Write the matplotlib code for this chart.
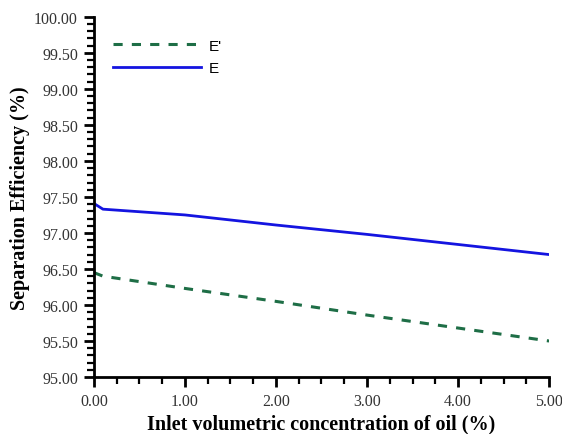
import matplotlib
matplotlib.use("Agg")
import matplotlib.pyplot as plt
from matplotlib.ticker import MultipleLocator, FormatStrFormatter

x = [0.0, 0.1, 1.0, 2.0, 3.0, 4.0, 5.0]
E = [97.41, 97.33, 97.25, 97.11, 96.98, 96.84, 96.70]
E_prime = [96.45, 96.40, 96.23, 96.05, 95.86, 95.68, 95.50]

fig = plt.figure(figsize=(5.62, 4.35), dpi=100)
ax = fig.add_axes([0.167, 0.131, 0.81, 0.828])

ax.plot(x, E_prime, color="#1e6e46", lw=2.2, linestyle=(0, (3, 3)), label="E'")
ax.plot(x, E, color="#1414e0", lw=2.0, label="E")

ax.set_xlim(0, 5)
ax.set_ylim(95, 100)
ax.xaxis.set_major_locator(MultipleLocator(1))
ax.xaxis.set_minor_locator(MultipleLocator(0.25))
ax.yaxis.set_major_locator(MultipleLocator(0.5))
ax.yaxis.set_minor_locator(MultipleLocator(0.1))
ax.xaxis.set_major_formatter(FormatStrFormatter("%.2f"))
ax.yaxis.set_major_formatter(FormatStrFormatter("%.2f"))

for s in ["top", "right"]:
    ax.spines[s].set_visible(False)
for s in ["left", "bottom"]:
    ax.spines[s].set_linewidth(2.0)
ax.tick_params(which="major", direction="out", length=7.5, width=2.0, labelsize=11.5, pad=4)
ax.tick_params(which="minor", direction="out", length=5, width=1.6)
for lab in ax.get_xticklabels() + ax.get_yticklabels():
    lab.set_family("Liberation Serif")
    lab.set_color("#333333")

ax.set_xlabel("Inlet volumetric concentration of oil (%)", family="Liberation Serif",
              fontweight="bold", fontsize=14.5, labelpad=3)
ax.set_ylabel("Separation Efficiency (%)", family="Liberation Serif",
              fontweight="bold", fontsize=14.5, labelpad=3)

leg = ax.legend(loc="upper left", bbox_to_anchor=(0.011, 0.978), frameon=False,
                handlelength=5.8, prop={"family": "Liberation Sans", "size": 11},
                labelspacing=0.55, handletextpad=0.5)

fig.savefig("out.png", dpi=100)
